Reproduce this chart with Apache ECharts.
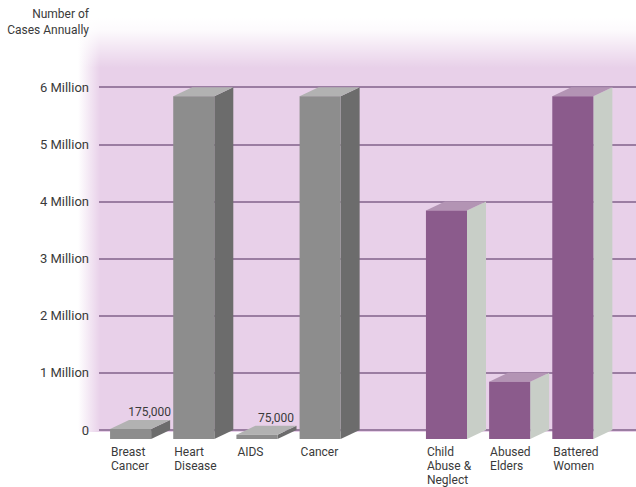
<!DOCTYPE html>
<html>
<head>
<meta charset="utf-8">
<script src="https://cdn.jsdelivr.net/npm/echarts@6/dist/echarts.min.js"></script>
<style>
  html, body { margin: 0; padding: 0; background: #ffffff; }
  #chart { width: 636px; height: 487px; }
</style>
</head>
<body>
<div id="chart"></div>
<script>
// ---- data ----
const categories = ['Breast\nCancer', 'Heart\nDisease', 'AIDS', 'Cancer', 'Child\nAbuse &\nNeglect', 'Abused\nElders', 'Battered\nWomen'];
const groups = ['disease', 'disease', 'disease', 'disease', 'violence', 'violence', 'violence'];
const values = [175000, 6000000, 75000, 6000000, 4000000, 1000000, 6000000];
const yTicks = [0, 1000000, 2000000, 3000000, 4000000, 5000000, 6000000];
const yTickLabels = ['0', '1 Million', '2 Million', '3 Million', '4 Million', '5 Million', '6 Million'];
const axisTitle = 'Number of\nCases Annually';

// ---- styles ----
const FONT = 'Roboto, "Liberation Sans", sans-serif';
const TEXT = '#3a3a3a';
const palette = {
  disease:  { front: '#8d8d8d', top: '#b2b2b2', side: '#6c6c6c' },
  violence: { front: '#8b5b8c', top: '#b394b4', side: '#c8cec7' }
};
const DX = 19, DY = 9;

// slot index: a gap separates the two groups
const slots = groups.map((g, i) => i + (g === 'violence' ? 1 : 0));
const seriesData = values.map((v, i) => [slots[i], v, i]);

const chart = echarts.init(document.getElementById('chart'), null, { renderer: 'svg' });

const PINK = '#e8d0e9';
const option = {
  animation: false,
  backgroundColor: '#ffffff',
  textStyle: { fontFamily: FONT },
  graphic: [
    {
      type: 'rect', z: -20, silent: true,
      shape: { x: 78, y: 18, width: 560, height: 414 },
      style: {
        fill: new echarts.graphic.LinearGradient(0, 0, 1, 0, [
          { offset: 0, color: 'rgba(232,208,233,0)' },
          { offset: 0.04, color: PINK },
          { offset: 1, color: PINK }
        ])
      }
    },
    {
      type: 'rect', z: -19, silent: true,
      shape: { x: 78, y: 18, width: 560, height: 50 },
      style: {
        fill: new echarts.graphic.LinearGradient(0, 0, 0, 1, [
          { offset: 0, color: 'rgba(255,255,255,1)' },
          { offset: 0.25, color: 'rgba(255,255,255,0.9)' },
          { offset: 1, color: 'rgba(255,255,255,0)' }
        ])
      }
    },
    {
      type: 'text', z: 10, silent: true,
      x: 89, y: 6,
      style: {
        text: axisTitle, fill: TEXT, font: '12px ' + FONT, lineHeight: 16,
        align: 'right', verticalAlign: 'top'
      }
    }
  ],
  grid: { left: 99, right: 0, top: 30, bottom: 57 },
  xAxis: {
    type: 'value', min: -0.5, max: 8, show: false
  },
  yAxis: {
    type: 'value', min: 0, max: 7000000, interval: 1000000,
    axisLine: { show: false },
    axisTick: { show: false },
    axisLabel: {
      margin: 10, fontFamily: FONT, fontSize: 13, color: TEXT,
      formatter: function (v) {
        const k = yTicks.indexOf(v);
        return k >= 0 ? yTickLabels[k] : '';
      }
    },
    splitLine: {
      show: true,
      lineStyle: {
        width: 1.6,
        color: ['#82628a', '#82628a', '#82628a', '#82628a', '#82628a', '#82628a', '#82628a', 'rgba(0,0,0,0)']
      }
    }
  },
  series: [{
    type: 'custom',
    clip: false,
    data: seriesData,
    renderItem: function (params, api) {
      const slot = api.value(0);
      const v = api.value(1);
      const idx = api.value(2);
      const col = palette[groups[idx]];
      const c = api.coord([slot, v]);
      const b = api.coord([slot, 0]);
      const w = api.size([0.65, 0])[0];
      const L = c[0] - w / 2, R = c[0] + w / 2;
      const T = c[1] + DY, B = b[1] + DY;
      const children = [
        { type: 'polygon', shape: { points: [[R, T], [R + DX, T - DY], [R + DX, B - DY], [R, B]] }, style: { fill: col.side } },
        { type: 'polygon', shape: { points: [[L, T], [R, T], [R + DX, T - DY], [L + DX, T - DY]] }, style: { fill: col.top } },
        { type: 'rect', shape: { x: L, y: T, width: w, height: B - T }, style: { fill: col.front } },
        { type: 'text', style: { x: L + 1, y: B + 6, text: categories[idx], fill: TEXT, font: '12px ' + FONT, lineHeight: 14, align: 'left', verticalAlign: 'top' } }
      ];
      if (v < 500000) {
        children.push({ type: 'text', style: { x: (L + R) / 2 + DX, y: T - DY - 2, text: v.toLocaleString('en-US'), fill: TEXT, font: '12px ' + FONT, align: 'center', verticalAlign: 'bottom' } });
      }
      return { type: 'group', children: children };
    }
  }]
};
chart.setOption(option);
</script>
</body>
</html>
